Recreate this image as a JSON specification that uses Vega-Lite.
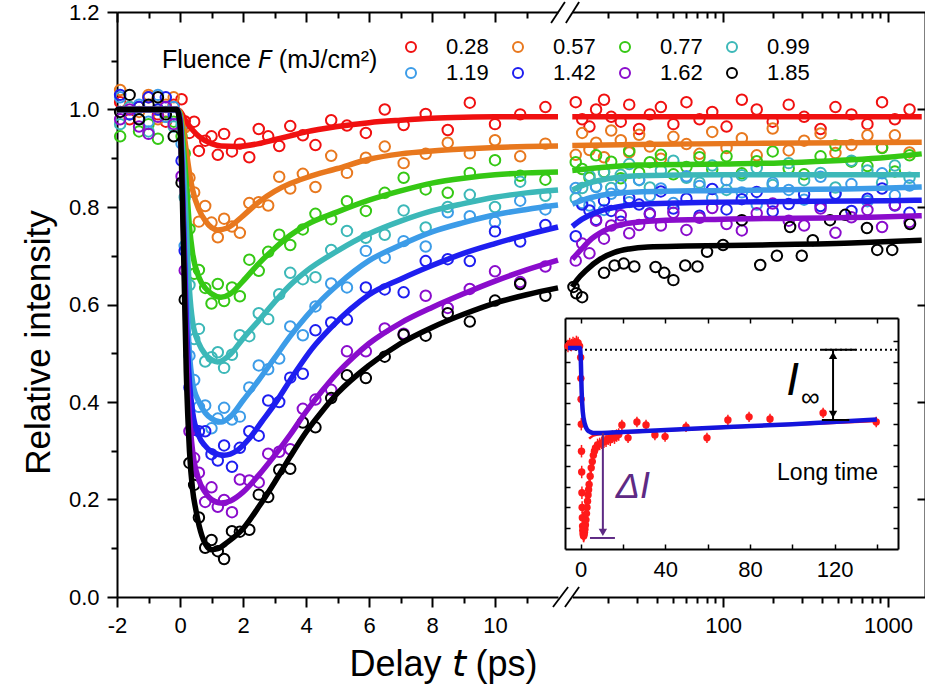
{
"$schema": "https://vega.github.io/schema/vega-lite/v6.json",
"width": 808, "height": 585,
"autosize": {"type": "none"},
"padding": {"left": 117, "top": 12, "right": 0, "bottom": 93},
"background": "white",
"config": {
  "font": "Liberation Sans",
  "view": {"stroke": null},
  "axis": {"grid": false, "domainColor": "black", "domainWidth": 2, "tickColor": "black", "tickWidth": 2, "labelColor": "black", "labelFontSize": 22, "labelFont": "Liberation Sans", "titleFont": "Liberation Sans", "titleColor": "black", "titleFontWeight": "normal", "labelOverlap": false, "labelFlush": false, "labelBound": false}
},
"datasets": {
"ptsL": [
{"F":"0.28","t":-1.9,"v":1.015},{"F":"0.28","t":-1.6,"v":0.98},{"F":"0.28","t":-1.3,"v":1.005},{"F":"0.28","t":-1.0,"v":1.025},{"F":"0.28","t":-0.7,"v":0.99},{"F":"0.28","t":-0.45,"v":0.975},{"F":"0.28","t":-0.2,"v":1.01},{"F":"0.28","t":0.05,"v":1.021},{"F":"0.28","t":0.15,"v":0.976},{"F":"0.28","t":0.3,"v":0.952},{"F":"0.28","t":0.45,"v":0.975},{"F":"0.28","t":0.6,"v":0.915},{"F":"0.28","t":0.8,"v":0.936},{"F":"0.28","t":1.0,"v":0.945},{"F":"0.28","t":1.2,"v":0.907},{"F":"0.28","t":1.4,"v":0.95},{"F":"0.28","t":1.65,"v":0.914},{"F":"0.28","t":1.9,"v":0.93},{"F":"0.28","t":2.2,"v":0.902},{"F":"0.28","t":2.5,"v":0.96},{"F":"0.28","t":2.8,"v":0.945},{"F":"0.28","t":3.15,"v":0.925},{"F":"0.28","t":3.5,"v":0.966},{"F":"0.28","t":3.9,"v":0.947},{"F":"0.28","t":4.3,"v":0.927},{"F":"0.28","t":4.8,"v":0.978},{"F":"0.28","t":5.3,"v":0.967},{"F":"0.28","t":5.9,"v":0.952},{"F":"0.28","t":6.5,"v":1.0},{"F":"0.28","t":7.1,"v":0.968},{"F":"0.28","t":7.8,"v":0.991},{"F":"0.28","t":8.5,"v":0.958},{"F":"0.28","t":9.2,"v":1.014},{"F":"0.28","t":10.0,"v":0.97},{"F":"0.28","t":10.8,"v":0.99},{"F":"0.28","t":11.6,"v":1.005},
{"F":"0.57","t":-1.9,"v":1.04},{"F":"0.57","t":-1.6,"v":1.005},{"F":"0.57","t":-1.3,"v":0.995},{"F":"0.57","t":-1.0,"v":1.03},{"F":"0.57","t":-0.7,"v":0.98},{"F":"0.57","t":-0.45,"v":1.01},{"F":"0.57","t":-0.2,"v":1.025},{"F":"0.57","t":0.05,"v":0.958},{"F":"0.57","t":0.15,"v":0.963},{"F":"0.57","t":0.3,"v":0.86},{"F":"0.57","t":0.45,"v":0.83},{"F":"0.57","t":0.6,"v":0.77},{"F":"0.57","t":0.8,"v":0.802},{"F":"0.57","t":1.0,"v":0.768},{"F":"0.57","t":1.2,"v":0.738},{"F":"0.57","t":1.4,"v":0.776},{"F":"0.57","t":1.65,"v":0.76},{"F":"0.57","t":1.9,"v":0.747},{"F":"0.57","t":2.2,"v":0.808},{"F":"0.57","t":2.5,"v":0.81},{"F":"0.57","t":2.8,"v":0.803},{"F":"0.57","t":3.15,"v":0.862},{"F":"0.57","t":3.5,"v":0.838},{"F":"0.57","t":3.9,"v":0.868},{"F":"0.57","t":4.3,"v":0.841},{"F":"0.57","t":4.8,"v":0.905},{"F":"0.57","t":5.3,"v":0.87},{"F":"0.57","t":5.9,"v":0.901},{"F":"0.57","t":6.5,"v":0.924},{"F":"0.57","t":7.1,"v":0.89},{"F":"0.57","t":7.8,"v":0.909},{"F":"0.57","t":8.5,"v":0.932},{"F":"0.57","t":9.2,"v":0.91},{"F":"0.57","t":10.0,"v":0.937},{"F":"0.57","t":10.8,"v":0.904},{"F":"0.57","t":11.6,"v":0.93},
{"F":"0.77","t":-1.9,"v":0.945},{"F":"0.77","t":-1.6,"v":0.99},{"F":"0.77","t":-1.3,"v":0.955},{"F":"0.77","t":-1.0,"v":0.97},{"F":"0.77","t":-0.7,"v":0.94},{"F":"0.77","t":-0.45,"v":0.995},{"F":"0.77","t":-0.2,"v":0.975},{"F":"0.77","t":0.05,"v":0.945},{"F":"0.77","t":0.15,"v":0.91},{"F":"0.77","t":0.3,"v":0.755},{"F":"0.77","t":0.45,"v":0.663},{"F":"0.77","t":0.6,"v":0.671},{"F":"0.77","t":0.8,"v":0.634},{"F":"0.77","t":1.0,"v":0.602},{"F":"0.77","t":1.2,"v":0.642},{"F":"0.77","t":1.4,"v":0.607},{"F":"0.77","t":1.65,"v":0.635},{"F":"0.77","t":1.9,"v":0.617},{"F":"0.77","t":2.2,"v":0.692},{"F":"0.77","t":2.5,"v":0.669},{"F":"0.77","t":2.8,"v":0.708},{"F":"0.77","t":3.15,"v":0.743},{"F":"0.77","t":3.5,"v":0.722},{"F":"0.77","t":3.9,"v":0.754},{"F":"0.77","t":4.3,"v":0.786},{"F":"0.77","t":4.8,"v":0.775},{"F":"0.77","t":5.3,"v":0.812},{"F":"0.77","t":5.9,"v":0.792},{"F":"0.77","t":6.5,"v":0.829},{"F":"0.77","t":7.1,"v":0.86},{"F":"0.77","t":7.8,"v":0.836},{"F":"0.77","t":8.5,"v":0.829},{"F":"0.77","t":9.2,"v":0.87},{"F":"0.77","t":10.0,"v":0.896},{"F":"0.77","t":10.8,"v":0.864},{"F":"0.77","t":11.6,"v":0.856},
{"F":"0.99","t":-1.9,"v":0.97},{"F":"0.99","t":-1.6,"v":1.005},{"F":"0.99","t":-1.3,"v":0.98},{"F":"0.99","t":-1.0,"v":0.955},{"F":"0.99","t":-0.7,"v":1.0},{"F":"0.99","t":-0.45,"v":0.985},{"F":"0.99","t":-0.2,"v":0.965},{"F":"0.99","t":0.05,"v":0.968},{"F":"0.99","t":0.15,"v":0.82},{"F":"0.99","t":0.3,"v":0.64},{"F":"0.99","t":0.45,"v":0.529},{"F":"0.99","t":0.6,"v":0.55},{"F":"0.99","t":0.8,"v":0.483},{"F":"0.99","t":1.0,"v":0.492},{"F":"0.99","t":1.2,"v":0.502},{"F":"0.99","t":1.4,"v":0.47},{"F":"0.99","t":1.65,"v":0.497},{"F":"0.99","t":1.9,"v":0.537},{"F":"0.99","t":2.2,"v":0.535},{"F":"0.99","t":2.5,"v":0.582},{"F":"0.99","t":2.8,"v":0.57},{"F":"0.99","t":3.15,"v":0.621},{"F":"0.99","t":3.5,"v":0.665},{"F":"0.99","t":3.9,"v":0.652},{"F":"0.99","t":4.3,"v":0.656},{"F":"0.99","t":4.8,"v":0.712},{"F":"0.99","t":5.3,"v":0.751},{"F":"0.99","t":5.9,"v":0.737},{"F":"0.99","t":6.5,"v":0.743},{"F":"0.99","t":7.1,"v":0.793},{"F":"0.99","t":7.8,"v":0.758},{"F":"0.99","t":8.5,"v":0.8},{"F":"0.99","t":9.2,"v":0.825},{"F":"0.99","t":10.0,"v":0.8},{"F":"0.99","t":10.8,"v":0.852},{"F":"0.99","t":11.6,"v":0.823},
{"F":"1.19","t":-1.9,"v":1.025},{"F":"1.19","t":-1.6,"v":0.99},{"F":"1.19","t":-1.3,"v":1.01},{"F":"1.19","t":-1.0,"v":0.975},{"F":"1.19","t":-0.7,"v":1.03},{"F":"1.19","t":-0.45,"v":0.985},{"F":"1.19","t":-0.2,"v":1.005},{"F":"1.19","t":0.05,"v":0.93},{"F":"1.19","t":0.15,"v":0.72},{"F":"1.19","t":0.3,"v":0.495},{"F":"1.19","t":0.45,"v":0.445},{"F":"1.19","t":0.6,"v":0.39},{"F":"1.19","t":0.8,"v":0.393},{"F":"1.19","t":1.0,"v":0.346},{"F":"1.19","t":1.2,"v":0.366},{"F":"1.19","t":1.4,"v":0.388},{"F":"1.19","t":1.65,"v":0.364},{"F":"1.19","t":1.9,"v":0.37},{"F":"1.19","t":2.2,"v":0.43},{"F":"1.19","t":2.5,"v":0.475},{"F":"1.19","t":2.8,"v":0.467},{"F":"1.19","t":3.15,"v":0.489},{"F":"1.19","t":3.5,"v":0.555},{"F":"1.19","t":3.9,"v":0.537},{"F":"1.19","t":4.3,"v":0.596},{"F":"1.19","t":4.8,"v":0.643},{"F":"1.19","t":5.3,"v":0.635},{"F":"1.19","t":5.9,"v":0.71},{"F":"1.19","t":6.5,"v":0.696},{"F":"1.19","t":7.1,"v":0.73},{"F":"1.19","t":7.8,"v":0.719},{"F":"1.19","t":8.5,"v":0.789},{"F":"1.19","t":9.2,"v":0.781},{"F":"1.19","t":10.0,"v":0.769},{"F":"1.19","t":10.8,"v":0.813},{"F":"1.19","t":11.6,"v":0.795},
{"F":"1.42","t":-1.9,"v":1.03},{"F":"1.42","t":-1.6,"v":0.99},{"F":"1.42","t":-1.3,"v":1.005},{"F":"1.42","t":-1.0,"v":1.025},{"F":"1.42","t":-0.7,"v":1.0},{"F":"1.42","t":-0.45,"v":1.025},{"F":"1.42","t":-0.2,"v":0.99},{"F":"1.42","t":0.05,"v":0.895},{"F":"1.42","t":0.15,"v":0.71},{"F":"1.42","t":0.3,"v":0.43},{"F":"1.42","t":0.45,"v":0.343},{"F":"1.42","t":0.6,"v":0.34},{"F":"1.42","t":0.8,"v":0.34},{"F":"1.42","t":1.0,"v":0.293},{"F":"1.42","t":1.2,"v":0.28},{"F":"1.42","t":1.4,"v":0.311},{"F":"1.42","t":1.65,"v":0.267},{"F":"1.42","t":1.9,"v":0.306},{"F":"1.42","t":2.2,"v":0.34},{"F":"1.42","t":2.5,"v":0.331},{"F":"1.42","t":2.8,"v":0.403},{"F":"1.42","t":3.15,"v":0.4},{"F":"1.42","t":3.5,"v":0.45},{"F":"1.42","t":3.9,"v":0.458},{"F":"1.42","t":4.3,"v":0.547},{"F":"1.42","t":4.8,"v":0.563},{"F":"1.42","t":5.3,"v":0.569},{"F":"1.42","t":5.9,"v":0.635},{"F":"1.42","t":6.5,"v":0.631},{"F":"1.42","t":7.1,"v":0.625},{"F":"1.42","t":7.8,"v":0.689},{"F":"1.42","t":8.5,"v":0.693},{"F":"1.42","t":9.2,"v":0.689},{"F":"1.42","t":10.0,"v":0.75},{"F":"1.42","t":10.8,"v":0.729},{"F":"1.42","t":11.6,"v":0.763},
{"F":"1.62","t":-1.9,"v":0.98},{"F":"1.62","t":-1.6,"v":1.0},{"F":"1.62","t":-1.3,"v":0.965},{"F":"1.62","t":-1.0,"v":0.95},{"F":"1.62","t":-0.7,"v":0.985},{"F":"1.62","t":-0.45,"v":1.005},{"F":"1.62","t":-0.2,"v":0.97},{"F":"1.62","t":0.05,"v":0.863},{"F":"1.62","t":0.15,"v":0.67},{"F":"1.62","t":0.3,"v":0.34},{"F":"1.62","t":0.45,"v":0.285},{"F":"1.62","t":0.6,"v":0.255},{"F":"1.62","t":0.8,"v":0.195},{"F":"1.62","t":1.0,"v":0.225},{"F":"1.62","t":1.2,"v":0.185},{"F":"1.62","t":1.4,"v":0.199},{"F":"1.62","t":1.65,"v":0.174},{"F":"1.62","t":1.9,"v":0.241},{"F":"1.62","t":2.2,"v":0.239},{"F":"1.62","t":2.5,"v":0.235},{"F":"1.62","t":2.8,"v":0.294},{"F":"1.62","t":3.15,"v":0.298},{"F":"1.62","t":3.5,"v":0.303},{"F":"1.62","t":3.9,"v":0.386},{"F":"1.62","t":4.3,"v":0.405},{"F":"1.62","t":4.8,"v":0.425},{"F":"1.62","t":5.3,"v":0.504},{"F":"1.62","t":5.9,"v":0.504},{"F":"1.62","t":6.5,"v":0.551},{"F":"1.62","t":7.1,"v":0.54},{"F":"1.62","t":7.8,"v":0.618},{"F":"1.62","t":8.5,"v":0.593},{"F":"1.62","t":9.2,"v":0.632},{"F":"1.62","t":10.0,"v":0.668},{"F":"1.62","t":10.8,"v":0.646},{"F":"1.62","t":11.6,"v":0.678},
{"F":"1.85","t":-1.9,"v":0.995},{"F":"1.85","t":-1.6,"v":1.03},{"F":"1.85","t":-1.3,"v":0.98},{"F":"1.85","t":-1.0,"v":1.01},{"F":"1.85","t":-0.7,"v":1.025},{"F":"1.85","t":-0.45,"v":0.99},{"F":"1.85","t":-0.2,"v":0.945},{"F":"1.85","t":0.05,"v":0.85},{"F":"1.85","t":0.15,"v":0.61},{"F":"1.85","t":0.3,"v":0.275},{"F":"1.85","t":0.45,"v":0.23},{"F":"1.85","t":0.6,"v":0.163},{"F":"1.85","t":0.8,"v":0.101},{"F":"1.85","t":1.0,"v":0.117},{"F":"1.85","t":1.2,"v":0.094},{"F":"1.85","t":1.4,"v":0.078},{"F":"1.85","t":1.65,"v":0.135},{"F":"1.85","t":1.9,"v":0.134},{"F":"1.85","t":2.2,"v":0.138},{"F":"1.85","t":2.5,"v":0.21},{"F":"1.85","t":2.8,"v":0.205},{"F":"1.85","t":3.15,"v":0.261},{"F":"1.85","t":3.5,"v":0.263},{"F":"1.85","t":3.9,"v":0.358},{"F":"1.85","t":4.3,"v":0.348},{"F":"1.85","t":4.8,"v":0.408},{"F":"1.85","t":5.3,"v":0.455},{"F":"1.85","t":5.9,"v":0.449},{"F":"1.85","t":6.5,"v":0.493},{"F":"1.85","t":7.1,"v":0.538},{"F":"1.85","t":7.8,"v":0.536},{"F":"1.85","t":8.5,"v":0.582},{"F":"1.85","t":9.2,"v":0.565},{"F":"1.85","t":10.0,"v":0.608},{"F":"1.85","t":10.8,"v":0.642},{"F":"1.85","t":11.6,"v":0.618}
],
"fitL": [
{"F":"0.28","t":-2,"v":1},{"F":"0.28","t":-0.1,"v":1},{"F":"0.28","t":0,"v":0.997},{"F":"0.28","t":0.2,"v":0.975},{"F":"0.28","t":0.4,"v":0.958},{"F":"0.28","t":0.6,"v":0.945},{"F":"0.28","t":0.8,"v":0.936},{"F":"0.28","t":1.0,"v":0.93},{"F":"0.28","t":1.3,"v":0.925},{"F":"0.28","t":1.8,"v":0.924},{"F":"0.28","t":2.5,"v":0.93},{"F":"0.28","t":3,"v":0.938},{"F":"0.28","t":3.5,"v":0.946},{"F":"0.28","t":4,"v":0.954},{"F":"0.28","t":5,"v":0.965},{"F":"0.28","t":6,"v":0.973},{"F":"0.28","t":7,"v":0.978},{"F":"0.28","t":8,"v":0.982},{"F":"0.28","t":9,"v":0.984},{"F":"0.28","t":10,"v":0.985},{"F":"0.28","t":12,"v":0.985},
{"F":"0.57","t":-2,"v":1},{"F":"0.57","t":-0.1,"v":1},{"F":"0.57","t":0,"v":0.995},{"F":"0.57","t":0.1,"v":0.96},{"F":"0.57","t":0.2,"v":0.915},{"F":"0.57","t":0.3,"v":0.87},{"F":"0.57","t":0.4,"v":0.835},{"F":"0.57","t":0.6,"v":0.795},{"F":"0.57","t":0.8,"v":0.772},{"F":"0.57","t":1.0,"v":0.758},{"F":"0.57","t":1.2,"v":0.753},{"F":"0.57","t":1.5,"v":0.757},{"F":"0.57","t":2,"v":0.782},{"F":"0.57","t":2.5,"v":0.81},{"F":"0.57","t":3,"v":0.832},{"F":"0.57","t":3.5,"v":0.848},{"F":"0.57","t":4,"v":0.86},{"F":"0.57","t":5,"v":0.879},{"F":"0.57","t":6,"v":0.898},{"F":"0.57","t":7,"v":0.909},{"F":"0.57","t":8,"v":0.915},{"F":"0.57","t":9,"v":0.919},{"F":"0.57","t":10,"v":0.922},{"F":"0.57","t":11,"v":0.924},{"F":"0.57","t":12,"v":0.925},
{"F":"0.77","t":-2,"v":1},{"F":"0.77","t":-0.1,"v":1},{"F":"0.77","t":0,"v":0.99},{"F":"0.77","t":0.1,"v":0.93},{"F":"0.77","t":0.2,"v":0.85},{"F":"0.77","t":0.3,"v":0.76},{"F":"0.77","t":0.4,"v":0.705},{"F":"0.77","t":0.6,"v":0.656},{"F":"0.77","t":0.8,"v":0.634},{"F":"0.77","t":1.0,"v":0.622},{"F":"0.77","t":1.3,"v":0.615},{"F":"0.77","t":1.6,"v":0.622},{"F":"0.77","t":2,"v":0.648},{"F":"0.77","t":2.5,"v":0.684},{"F":"0.77","t":3,"v":0.715},{"F":"0.77","t":3.5,"v":0.742},{"F":"0.77","t":4,"v":0.763},{"F":"0.77","t":5,"v":0.79},{"F":"0.77","t":6,"v":0.814},{"F":"0.77","t":7,"v":0.833},{"F":"0.77","t":8,"v":0.849},{"F":"0.77","t":9,"v":0.859},{"F":"0.77","t":10,"v":0.866},{"F":"0.77","t":11,"v":0.87},{"F":"0.77","t":12,"v":0.872},
{"F":"0.99","t":-2,"v":1},{"F":"0.99","t":-0.1,"v":1},{"F":"0.99","t":0,"v":0.985},{"F":"0.99","t":0.1,"v":0.9},{"F":"0.99","t":0.2,"v":0.76},{"F":"0.99","t":0.3,"v":0.63},{"F":"0.99","t":0.4,"v":0.565},{"F":"0.99","t":0.6,"v":0.52},{"F":"0.99","t":0.8,"v":0.498},{"F":"0.99","t":1.0,"v":0.487},{"F":"0.99","t":1.2,"v":0.482},{"F":"0.99","t":1.6,"v":0.498},{"F":"0.99","t":2,"v":0.53},{"F":"0.99","t":2.5,"v":0.567},{"F":"0.99","t":3,"v":0.605},{"F":"0.99","t":3.5,"v":0.64},{"F":"0.99","t":4,"v":0.668},{"F":"0.99","t":5,"v":0.71},{"F":"0.99","t":6,"v":0.745},{"F":"0.99","t":7,"v":0.771},{"F":"0.99","t":8,"v":0.792},{"F":"0.99","t":9,"v":0.807},{"F":"0.99","t":10,"v":0.82},{"F":"0.99","t":11,"v":0.829},{"F":"0.99","t":12,"v":0.835},
{"F":"1.19","t":-2,"v":1},{"F":"1.19","t":-0.1,"v":1},{"F":"1.19","t":0,"v":0.98},{"F":"1.19","t":0.1,"v":0.84},{"F":"1.19","t":0.2,"v":0.64},{"F":"1.19","t":0.3,"v":0.5},{"F":"1.19","t":0.4,"v":0.44},{"F":"1.19","t":0.6,"v":0.4},{"F":"1.19","t":0.8,"v":0.378},{"F":"1.19","t":1.0,"v":0.366},{"F":"1.19","t":1.3,"v":0.359},{"F":"1.19","t":1.6,"v":0.37},{"F":"1.19","t":2,"v":0.403},{"F":"1.19","t":2.5,"v":0.445},{"F":"1.19","t":3,"v":0.49},{"F":"1.19","t":3.5,"v":0.535},{"F":"1.19","t":4,"v":0.575},{"F":"1.19","t":4.5,"v":0.61},{"F":"1.19","t":5,"v":0.64},{"F":"1.19","t":6,"v":0.69},{"F":"1.19","t":7,"v":0.722},{"F":"1.19","t":8,"v":0.749},{"F":"1.19","t":9,"v":0.768},{"F":"1.19","t":10,"v":0.784},{"F":"1.19","t":11,"v":0.795},{"F":"1.19","t":12,"v":0.804},
{"F":"1.42","t":-2,"v":1},{"F":"1.42","t":-0.1,"v":1},{"F":"1.42","t":0,"v":0.98},{"F":"1.42","t":0.1,"v":0.8},{"F":"1.42","t":0.2,"v":0.57},{"F":"1.42","t":0.3,"v":0.44},{"F":"1.42","t":0.4,"v":0.38},{"F":"1.42","t":0.6,"v":0.33},{"F":"1.42","t":0.8,"v":0.31},{"F":"1.42","t":1.0,"v":0.298},{"F":"1.42","t":1.4,"v":0.291},{"F":"1.42","t":1.8,"v":0.3},{"F":"1.42","t":2.2,"v":0.325},{"F":"1.42","t":2.6,"v":0.36},{"F":"1.42","t":3,"v":0.395},{"F":"1.42","t":3.6,"v":0.455},{"F":"1.42","t":4.2,"v":0.51},{"F":"1.42","t":4.8,"v":0.553},{"F":"1.42","t":5.4,"v":0.59},{"F":"1.42","t":6,"v":0.62},{"F":"1.42","t":7,"v":0.652},{"F":"1.42","t":8,"v":0.68},{"F":"1.42","t":9,"v":0.705},{"F":"1.42","t":10,"v":0.725},{"F":"1.42","t":11,"v":0.743},{"F":"1.42","t":12,"v":0.759},
{"F":"1.62","t":-2,"v":1},{"F":"1.62","t":-0.1,"v":1},{"F":"1.62","t":0,"v":0.975},{"F":"1.62","t":0.1,"v":0.78},{"F":"1.62","t":0.2,"v":0.52},{"F":"1.62","t":0.3,"v":0.37},{"F":"1.62","t":0.4,"v":0.3},{"F":"1.62","t":0.6,"v":0.24},{"F":"1.62","t":0.8,"v":0.215},{"F":"1.62","t":1.0,"v":0.2},{"F":"1.62","t":1.3,"v":0.193},{"F":"1.62","t":1.6,"v":0.197},{"F":"1.62","t":2,"v":0.215},{"F":"1.62","t":2.5,"v":0.25},{"F":"1.62","t":3,"v":0.29},{"F":"1.62","t":3.5,"v":0.333},{"F":"1.62","t":4,"v":0.38},{"F":"1.62","t":4.5,"v":0.422},{"F":"1.62","t":5,"v":0.46},{"F":"1.62","t":5.5,"v":0.492},{"F":"1.62","t":6,"v":0.52},{"F":"1.62","t":7,"v":0.562},{"F":"1.62","t":8,"v":0.594},{"F":"1.62","t":9,"v":0.622},{"F":"1.62","t":10,"v":0.648},{"F":"1.62","t":11,"v":0.671},{"F":"1.62","t":12,"v":0.691},
{"F":"1.85","t":-2,"v":1},{"F":"1.85","t":-0.1,"v":1},{"F":"1.85","t":0,"v":0.97},{"F":"1.85","t":0.1,"v":0.75},{"F":"1.85","t":0.2,"v":0.46},{"F":"1.85","t":0.3,"v":0.3},{"F":"1.85","t":0.4,"v":0.22},{"F":"1.85","t":0.5,"v":0.18},{"F":"1.85","t":0.7,"v":0.125},{"F":"1.85","t":1.0,"v":0.097},{"F":"1.85","t":1.2,"v":0.099},{"F":"1.85","t":1.5,"v":0.112},{"F":"1.85","t":2,"v":0.14},{"F":"1.85","t":2.5,"v":0.185},{"F":"1.85","t":3,"v":0.235},{"F":"1.85","t":3.5,"v":0.288},{"F":"1.85","t":4,"v":0.338},{"F":"1.85","t":4.5,"v":0.38},{"F":"1.85","t":5,"v":0.418},{"F":"1.85","t":6,"v":0.475},{"F":"1.85","t":7,"v":0.52},{"F":"1.85","t":8,"v":0.553},{"F":"1.85","t":9,"v":0.58},{"F":"1.85","t":10,"v":0.603},{"F":"1.85","t":11,"v":0.62},{"F":"1.85","t":12,"v":0.634}
],
"ptsR": [
{"F":"0.28","t":12.8,"v":1.015},{"F":"0.28","t":14,"v":0.98},{"F":"0.28","t":15.5,"v":0.965},{"F":"0.28","t":17,"v":1.0},{"F":"0.28","t":19,"v":1.02},{"F":"0.28","t":21,"v":0.985},{"F":"0.28","t":24,"v":0.975},{"F":"0.28","t":27,"v":1.01},{"F":"0.28","t":31,"v":0.96},{"F":"0.28","t":36,"v":0.99},{"F":"0.28","t":42,"v":1.005},{"F":"0.28","t":50,"v":0.97},{"F":"0.28","t":60,"v":1.015},{"F":"0.28","t":72,"v":0.98},{"F":"0.28","t":86,"v":0.995},{"F":"0.28","t":105,"v":0.965},{"F":"0.28","t":130,"v":1.02},{"F":"0.28","t":160,"v":1.0},{"F":"0.28","t":200,"v":0.975},{"F":"0.28","t":250,"v":1.01},{"F":"0.28","t":310,"v":0.985},{"F":"0.28","t":390,"v":0.96},{"F":"0.28","t":480,"v":1.005},{"F":"0.28","t":600,"v":0.99},{"F":"0.28","t":750,"v":0.97},{"F":"0.28","t":920,"v":1.015},{"F":"0.28","t":1100,"v":0.98},{"F":"0.28","t":1350,"v":1.0},
{"F":"0.57","t":12.8,"v":0.907},{"F":"0.57","t":14,"v":0.952},{"F":"0.57","t":15.5,"v":0.917},{"F":"0.57","t":17,"v":0.932},{"F":"0.57","t":19,"v":0.902},{"F":"0.57","t":21,"v":0.957},{"F":"0.57","t":24,"v":0.937},{"F":"0.57","t":27,"v":0.912},{"F":"0.57","t":31,"v":0.948},{"F":"0.57","t":36,"v":0.924},{"F":"0.57","t":42,"v":0.899},{"F":"0.57","t":50,"v":0.944},{"F":"0.57","t":60,"v":0.929},{"F":"0.57","t":72,"v":0.909},{"F":"0.57","t":86,"v":0.954},{"F":"0.57","t":105,"v":0.921},{"F":"0.57","t":130,"v":0.941},{"F":"0.57","t":160,"v":0.906},{"F":"0.57","t":200,"v":0.961},{"F":"0.57","t":250,"v":0.916},{"F":"0.57","t":310,"v":0.936},{"F":"0.57","t":390,"v":0.951},{"F":"0.57","t":480,"v":0.911},{"F":"0.57","t":600,"v":0.927},{"F":"0.57","t":750,"v":0.947},{"F":"0.57","t":920,"v":0.922},{"F":"0.57","t":1100,"v":0.947},{"F":"0.57","t":1350,"v":0.912},
{"F":"0.77","t":12.8,"v":0.892},{"F":"0.77","t":14,"v":0.878},{"F":"0.77","t":15.5,"v":0.86},{"F":"0.77","t":17,"v":0.906},{"F":"0.77","t":19,"v":0.872},{"F":"0.77","t":21,"v":0.893},{"F":"0.77","t":24,"v":0.859},{"F":"0.77","t":27,"v":0.915},{"F":"0.77","t":31,"v":0.871},{"F":"0.77","t":36,"v":0.892},{"F":"0.77","t":42,"v":0.907},{"F":"0.77","t":50,"v":0.867},{"F":"0.77","t":60,"v":0.882},{"F":"0.77","t":72,"v":0.902},{"F":"0.77","t":86,"v":0.877},{"F":"0.77","t":105,"v":0.904},{"F":"0.77","t":130,"v":0.869},{"F":"0.77","t":160,"v":0.894},{"F":"0.77","t":200,"v":0.914},{"F":"0.77","t":250,"v":0.879},{"F":"0.77","t":310,"v":0.867},{"F":"0.77","t":390,"v":0.904},{"F":"0.77","t":480,"v":0.926},{"F":"0.77","t":600,"v":0.893},{"F":"0.77","t":750,"v":0.884},{"F":"0.77","t":920,"v":0.921},{"F":"0.77","t":1100,"v":0.873},{"F":"0.77","t":1350,"v":0.906},
{"F":"0.99","t":12.8,"v":0.818},{"F":"0.99","t":14,"v":0.839},{"F":"0.99","t":15.5,"v":0.864},{"F":"0.99","t":17,"v":0.842},{"F":"0.99","t":19,"v":0.871},{"F":"0.99","t":21,"v":0.839},{"F":"0.99","t":24,"v":0.866},{"F":"0.99","t":27,"v":0.888},{"F":"0.99","t":31,"v":0.855},{"F":"0.99","t":36,"v":0.84},{"F":"0.99","t":42,"v":0.875},{"F":"0.99","t":50,"v":0.895},{"F":"0.99","t":60,"v":0.86},{"F":"0.99","t":72,"v":0.85},{"F":"0.99","t":86,"v":0.885},{"F":"0.99","t":105,"v":0.835},{"F":"0.99","t":130,"v":0.865},{"F":"0.99","t":160,"v":0.88},{"F":"0.99","t":200,"v":0.845},{"F":"0.99","t":250,"v":0.89},{"F":"0.99","t":310,"v":0.855},{"F":"0.99","t":390,"v":0.87},{"F":"0.99","t":480,"v":0.84},{"F":"0.99","t":600,"v":0.895},{"F":"0.99","t":750,"v":0.875},{"F":"0.99","t":920,"v":0.85},{"F":"0.99","t":1100,"v":0.885},{"F":"0.99","t":1350,"v":0.86},
{"F":"1.19","t":12.8,"v":0.839},{"F":"1.19","t":14,"v":0.808},{"F":"1.19","t":15.5,"v":0.803},{"F":"1.19","t":17,"v":0.841},{"F":"1.19","t":19,"v":0.794},{"F":"1.19","t":21,"v":0.827},{"F":"1.19","t":24,"v":0.844},{"F":"1.19","t":27,"v":0.81},{"F":"1.19","t":31,"v":0.856},{"F":"1.19","t":36,"v":0.823},{"F":"1.19","t":42,"v":0.838},{"F":"1.19","t":50,"v":0.808},{"F":"1.19","t":60,"v":0.863},{"F":"1.19","t":72,"v":0.843},{"F":"1.19","t":86,"v":0.818},{"F":"1.19","t":105,"v":0.855},{"F":"1.19","t":130,"v":0.83},{"F":"1.19","t":160,"v":0.805},{"F":"1.19","t":200,"v":0.85},{"F":"1.19","t":250,"v":0.835},{"F":"1.19","t":310,"v":0.815},{"F":"1.19","t":390,"v":0.862},{"F":"1.19","t":480,"v":0.827},{"F":"1.19","t":600,"v":0.847},{"F":"1.19","t":750,"v":0.812},{"F":"1.19","t":920,"v":0.869},{"F":"1.19","t":1100,"v":0.824},{"F":"1.19","t":1350,"v":0.844},
{"F":"1.42","t":12.8,"v":0.74},{"F":"1.42","t":14,"v":0.805},{"F":"1.42","t":15.5,"v":0.793},{"F":"1.42","t":17,"v":0.774},{"F":"1.42","t":19,"v":0.813},{"F":"1.42","t":21,"v":0.792},{"F":"1.42","t":24,"v":0.77},{"F":"1.42","t":27,"v":0.818},{"F":"1.42","t":31,"v":0.805},{"F":"1.42","t":36,"v":0.787},{"F":"1.42","t":42,"v":0.832},{"F":"1.42","t":50,"v":0.797},{"F":"1.42","t":60,"v":0.817},{"F":"1.42","t":72,"v":0.782},{"F":"1.42","t":86,"v":0.837},{"F":"1.42","t":105,"v":0.795},{"F":"1.42","t":130,"v":0.816},{"F":"1.42","t":160,"v":0.831},{"F":"1.42","t":200,"v":0.791},{"F":"1.42","t":250,"v":0.806},{"F":"1.42","t":310,"v":0.826},{"F":"1.42","t":390,"v":0.802},{"F":"1.42","t":480,"v":0.827},{"F":"1.42","t":600,"v":0.792},{"F":"1.42","t":750,"v":0.817},{"F":"1.42","t":920,"v":0.838},{"F":"1.42","t":1100,"v":0.803},{"F":"1.42","t":1350,"v":0.788},
{"F":"1.62","t":12.8,"v":0.69},{"F":"1.62","t":14,"v":0.725},{"F":"1.62","t":15.5,"v":0.705},{"F":"1.62","t":17,"v":0.772},{"F":"1.62","t":19,"v":0.735},{"F":"1.62","t":21,"v":0.762},{"F":"1.62","t":24,"v":0.783},{"F":"1.62","t":27,"v":0.746},{"F":"1.62","t":31,"v":0.763},{"F":"1.62","t":36,"v":0.785},{"F":"1.62","t":42,"v":0.762},{"F":"1.62","t":50,"v":0.788},{"F":"1.62","t":60,"v":0.753},{"F":"1.62","t":72,"v":0.778},{"F":"1.62","t":86,"v":0.798},{"F":"1.62","t":105,"v":0.765},{"F":"1.62","t":130,"v":0.752},{"F":"1.62","t":160,"v":0.787},{"F":"1.62","t":200,"v":0.807},{"F":"1.62","t":250,"v":0.772},{"F":"1.62","t":310,"v":0.762},{"F":"1.62","t":390,"v":0.797},{"F":"1.62","t":480,"v":0.747},{"F":"1.62","t":600,"v":0.779},{"F":"1.62","t":750,"v":0.794},{"F":"1.62","t":920,"v":0.759},{"F":"1.62","t":1100,"v":0.804},{"F":"1.62","t":1350,"v":0.769},
{"F":"1.85","t":12.4,"v":0.636},{"F":"1.85","t":12.9,"v":0.623},{"F":"1.85","t":14,"v":0.615},{"F":"1.85","t":19,"v":0.665},{"F":"1.85","t":22,"v":0.68},{"F":"1.85","t":25,"v":0.684},{"F":"1.85","t":29,"v":0.678},{"F":"1.85","t":39,"v":0.677},{"F":"1.85","t":44,"v":0.665},{"F":"1.85","t":50,"v":0.65},{"F":"1.85","t":59,"v":0.68},{"F":"1.85","t":70,"v":0.678},{"F":"1.85","t":80,"v":0.708},{"F":"1.85","t":100,"v":0.722},{"F":"1.85","t":130,"v":0.773},{"F":"1.85","t":168,"v":0.681},{"F":"1.85","t":212,"v":0.7},{"F":"1.85","t":255,"v":0.759},{"F":"1.85","t":300,"v":0.7},{"F":"1.85","t":350,"v":0.732},{"F":"1.85","t":445,"v":0.773},{"F":"1.85","t":550,"v":0.784},{"F":"1.85","t":745,"v":0.757},{"F":"1.85","t":860,"v":0.712},{"F":"1.85","t":1060,"v":0.712},{"F":"1.85","t":1360,"v":0.765}
],
"fitR": [
{"F":"0.28","t":12.2,"v":0.985},{"F":"0.28","t":100,"v":0.985},{"F":"0.28","t":1600,"v":0.985},
{"F":"0.57","t":12.2,"v":0.926},{"F":"0.57","t":30,"v":0.928},{"F":"0.57","t":100,"v":0.93},{"F":"0.57","t":1600,"v":0.933},
{"F":"0.77","t":12.2,"v":0.875},{"F":"0.77","t":20,"v":0.882},{"F":"0.77","t":30,"v":0.886},{"F":"0.77","t":100,"v":0.888},{"F":"0.77","t":300,"v":0.892},{"F":"0.77","t":1000,"v":0.902},{"F":"0.77","t":1600,"v":0.909},
{"F":"0.99","t":12.2,"v":0.835},{"F":"0.99","t":15,"v":0.848},{"F":"0.99","t":20,"v":0.858},{"F":"0.99","t":30,"v":0.864},{"F":"0.99","t":100,"v":0.866},{"F":"0.99","t":1560,"v":0.866},
{"F":"1.19","t":12.2,"v":0.806},{"F":"1.19","t":15,"v":0.817},{"F":"1.19","t":20,"v":0.826},{"F":"1.19","t":30,"v":0.831},{"F":"1.19","t":100,"v":0.834},{"F":"1.19","t":1000,"v":0.839},{"F":"1.19","t":1600,"v":0.841},
{"F":"1.42","t":12.2,"v":0.76},{"F":"1.42","t":14,"v":0.775},{"F":"1.42","t":17,"v":0.789},{"F":"1.42","t":22,"v":0.799},{"F":"1.42","t":30,"v":0.805},{"F":"1.42","t":100,"v":0.81},{"F":"1.42","t":1000,"v":0.813},{"F":"1.42","t":1600,"v":0.814},
{"F":"1.62","t":12.2,"v":0.693},{"F":"1.62","t":14,"v":0.715},{"F":"1.62","t":16,"v":0.735},{"F":"1.62","t":20,"v":0.755},{"F":"1.62","t":26,"v":0.766},{"F":"1.62","t":40,"v":0.772},{"F":"1.62","t":100,"v":0.775},{"F":"1.62","t":1000,"v":0.78},{"F":"1.62","t":1600,"v":0.782},
{"F":"1.85","t":12.2,"v":0.636},{"F":"1.85","t":13,"v":0.65},{"F":"1.85","t":15,"v":0.672},{"F":"1.85","t":18,"v":0.693},{"F":"1.85","t":22,"v":0.707},{"F":"1.85","t":27,"v":0.714},{"F":"1.85","t":35,"v":0.718},{"F":"1.85","t":60,"v":0.72},{"F":"1.85","t":170,"v":0.722},{"F":"1.85","t":600,"v":0.726},{"F":"1.85","t":1600,"v":0.732}
],
"inset": [
{"t":-6,"v":0.975,"lo":0.945,"hi":1.005},{"t":-5.2,"v":0.985,"lo":0.955,"hi":1.015},{"t":-4.4,"v":0.98,"lo":0.95,"hi":1.01},{"t":-3.6,"v":0.99,"lo":0.96,"hi":1.02},{"t":-2.8,"v":0.985,"lo":0.955,"hi":1.015},{"t":-2,"v":0.995,"lo":0.965,"hi":1.025},{"t":-1.2,"v":0.99,"lo":0.96,"hi":1.02},{"t":-0.5,"v":0.975,"lo":0.945,"hi":1.005},{"t":0,"v":0.92,"lo":0.89,"hi":0.95},{"t":0.1,"v":0.82,"lo":0.79,"hi":0.85},{"t":0.2,"v":0.72,"lo":0.69,"hi":0.75},{"t":0.3,"v":0.6,"lo":0.57,"hi":0.63},{"t":0.4,"v":0.47,"lo":0.44,"hi":0.5},{"t":0.5,"v":0.37,"lo":0.34,"hi":0.4},{"t":0.6,"v":0.27,"lo":0.24,"hi":0.3},{"t":0.7,"v":0.2,"lo":0.17,"hi":0.23},{"t":0.8,"v":0.15,"lo":0.12,"hi":0.18},{"t":0.9,"v":0.11,"lo":0.08,"hi":0.14},{"t":1.0,"v":0.09,"lo":0.06,"hi":0.12},{"t":1.15,"v":0.075,"lo":0.045,"hi":0.105},{"t":1.3,"v":0.065,"lo":0.035,"hi":0.095},{"t":1.45,"v":0.062,"lo":0.032,"hi":0.092},{"t":1.6,"v":0.07,"lo":0.04,"hi":0.1},{"t":1.8,"v":0.08,"lo":0.05,"hi":0.11},{"t":2.0,"v":0.095,"lo":0.065,"hi":0.125},{"t":2.25,"v":0.115,"lo":0.085,"hi":0.145},{"t":2.5,"v":0.14,"lo":0.11,"hi":0.17},{"t":2.75,"v":0.17,"lo":0.14,"hi":0.2},{"t":3.0,"v":0.2,"lo":0.17,"hi":0.23},{"t":3.25,"v":0.23,"lo":0.2,"hi":0.26},{"t":3.5,"v":0.26,"lo":0.23,"hi":0.29},{"t":3.75,"v":0.285,"lo":0.255,"hi":0.315},{"t":4.0,"v":0.31,"lo":0.28,"hi":0.34},{"t":4.5,"v":0.35,"lo":0.32,"hi":0.38},{"t":5.0,"v":0.39,"lo":0.36,"hi":0.42},{"t":5.5,"v":0.42,"lo":0.39,"hi":0.45},{"t":6.0,"v":0.45,"lo":0.42,"hi":0.48},{"t":6.5,"v":0.47,"lo":0.44,"hi":0.5},{"t":7.0,"v":0.485,"lo":0.455,"hi":0.515},{"t":8,"v":0.5,"lo":0.47,"hi":0.53},{"t":9,"v":0.505,"lo":0.475,"hi":0.535},{"t":10,"v":0.51,"lo":0.48,"hi":0.54},{"t":11,"v":0.515,"lo":0.485,"hi":0.545},{"t":12,"v":0.52,"lo":0.49,"hi":0.55},{"t":13,"v":0.53,"lo":0.5,"hi":0.56},{"t":14,"v":0.525,"lo":0.495,"hi":0.555},{"t":15,"v":0.54,"lo":0.51,"hi":0.57},{"t":16,"v":0.535,"lo":0.505,"hi":0.565},{"t":17,"v":0.545,"lo":0.515,"hi":0.575},{"t":18,"v":0.55,"lo":0.52,"hi":0.58},
{"t":19.5,"v":0.596,"lo":0.571,"hi":0.621},{"t":22.4,"v":0.534,"lo":0.509,"hi":0.559},{"t":26.6,"v":0.61,"lo":0.585,"hi":0.635},{"t":30.9,"v":0.596,"lo":0.571,"hi":0.621},{"t":35.1,"v":0.548,"lo":0.523,"hi":0.573},{"t":39.9,"v":0.54,"lo":0.515,"hi":0.565},{"t":49.8,"v":0.587,"lo":0.562,"hi":0.612},{"t":59.7,"v":0.534,"lo":0.509,"hi":0.559},{"t":69.6,"v":0.62,"lo":0.595,"hi":0.645},{"t":79.6,"v":0.635,"lo":0.61,"hi":0.66},{"t":89.5,"v":0.625,"lo":0.6,"hi":0.65},{"t":114.6,"v":0.654,"lo":0.629,"hi":0.679},{"t":139.7,"v":0.61,"lo":0.585,"hi":0.635}
],
"insetBlue": [
{"t":-6,"v":0.966},{"t":-0.3,"v":0.966},{"t":0,"v":0.93},{"t":0.5,"v":0.75},{"t":1,"v":0.66},{"t":2,"v":0.6},{"t":3,"v":0.575},{"t":4,"v":0.565},{"t":6,"v":0.558},{"t":10,"v":0.558},{"t":20,"v":0.562},{"t":50,"v":0.577},{"t":100,"v":0.6},{"t":140,"v":0.622}
],
"insetRedFit": [
{"t":4,"v":0.53},{"t":6,"v":0.545},{"t":10,"v":0.552},{"t":20,"v":0.558},{"t":50,"v":0.574},{"t":100,"v":0.597},{"t":140,"v":0.615}
]
},
"layer": [
{
 "layer": [
  {"data": {"name": "ptsL"},
   "mark": {"type": "point", "filled": false, "size": 110, "strokeWidth": 2, "opacity": 1},
   "encoding": {
     "x": {"field": "t", "type": "quantitative", "scale": {"domain": [-2, 12], "range": [0, 441], "nice": false, "zero": false},
       "axis": {"orient": "bottom", "values": [-2,-1,0,1,2,3,4,5,6,7,8,9,10,11], "tickSize": {"condition": {"test": "datum.value % 2 === 0", "value": 10}, "value": 6}, "labelExpr": "datum.value % 2 === 0 ? '' + datum.value : ''", "labelPadding": 8, "title": "Delay \ud835\ude35 (ps)", "titleFontSize": 36, "titleX": 326, "titleY": 78, "titleBaseline": "alphabetic", "titleAlign": "center"}},
     "y": {"field": "v", "type": "quantitative", "scale": {"domain": [0, 1.2], "nice": false, "zero": false},
       "axis": {"orient": "left", "values": [0,0.1,0.2,0.3,0.4,0.5,0.6,0.7,0.8,0.9,1,1.1,1.2], "tickSize": {"condition": {"test": "round(datum.value*10) % 2 === 0", "value": 10}, "value": 6}, "labelExpr": "round(datum.value*10) % 2 === 0 ? format(datum.value, '.1f') : ''", "labelPadding": 8, "title": "Relative intensity", "titleFontSize": 35, "titleX": -68, "titleY": 330, "titleBaseline": "alphabetic", "titleAlign": "center", "titleAngle": -90}},
     "color": {"field": "F", "type": "nominal",
       "scale": {"domain": ["0.28","0.57","0.77","0.99","1.19","1.42","1.62","1.85"], "range": ["#f01010","#e8781e","#35c814","#3cb8b8","#3c9ce8","#1e1ef0","#8a0ccc","#000000"]},
       "legend": {"orient": "none", "legendX": 45, "legendY": 24, "direction": "horizontal", "columns": 4, "title": "Fluence \ud835\ude0d (mJ/cm\u00b2)", "titleOrient": "left", "titleLimit": 400, "titleFontSize": 25, "titleFontWeight": "normal", "titleColor": "black", "titlePadding": 22, "labelFontSize": 22, "labelColor": "black", "labelOffset": 24, "columnPadding": 18, "rowPadding": 4, "symbolType": "circle", "symbolSize": 100, "symbolStrokeWidth": 2, "padding": 0}}
   }},
  {"data": {"name": "fitL"},
   "mark": {"type": "line", "strokeWidth": 5.5, "interpolate": "monotone"},
   "encoding": {"x": {"field": "t", "type": "quantitative"}, "y": {"field": "v", "type": "quantitative"}, "color": {"field": "F", "type": "nominal"}}},
  {"data": {"values": [
     {"t1": 11.84, "t2": 12.32, "v1": -0.0205, "v2": 0.0205},
     {"t1": 12.22, "t2": 12.67, "v1": -0.0205, "v2": 0.0205},
     {"t1": 11.78, "t2": 12.22, "v1": 1.1774, "v2": 1.2205},
     {"t1": 12.25, "t2": 12.67, "v1": 1.1774, "v2": 1.2205}]},
   "mark": {"type": "rule", "strokeWidth": 1.8, "color": "black"},
   "encoding": {"x": {"field": "t1", "type": "quantitative"}, "x2": {"field": "t2"}, "y": {"field": "v1", "type": "quantitative"}, "y2": {"field": "v2"}}}
 ]
},
{
 "data": {"values": [{"t": 0, "v": 0.5}]},
 "mark": {"type": "point", "opacity": 0},
 "encoding": {
   "x": {"field": "t", "type": "quantitative", "scale": {"domain": [-2, 12], "range": [0, 441], "nice": false, "zero": false},
     "axis": {"orient": "top", "values": [-2,-1,0,1,2,3,4,5,6,7,8,9,10,11], "tickSize": {"condition": {"test": "datum.value % 2 === 0", "value": -10}, "value": -6}, "labels": false, "title": null}},
   "y": {"field": "v", "type": "quantitative", "scale": {"domain": [0, 1.2], "nice": false, "zero": false},
     "axis": {"orient": "right", "values": [0.2,0.4,0.6,0.8,1.0], "tickSize": -8, "labels": false, "title": null}}
 }
},
{
 "layer": [
  {"data": {"name": "ptsR"},
   "mark": {"type": "point", "filled": false, "size": 110, "strokeWidth": 2, "opacity": 1},
   "encoding": {
     "x": {"field": "t", "type": "quantitative", "scale": {"type": "log", "domain": [12.2, 1675], "range": [455.3, 808], "nice": false, "zero": false},
       "axis": {"orient": "bottom", "values": [20,30,40,50,60,70,80,90,100,200,300,400,500,600,700,800,900,1000], "tickSize": {"condition": {"test": "datum.value === 100 || datum.value === 1000", "value": 10}, "value": 6}, "labelExpr": "(datum.value === 100 || datum.value === 1000) ? format(datum.value, 'd') : ''", "labelPadding": 8, "title": null}},
     "y": {"field": "v", "type": "quantitative", "scale": {"domain": [0, 1.2], "nice": false, "zero": false}, "axis": null},
     "color": {"field": "F", "type": "nominal"}
   }},
  {"data": {"name": "fitR"},
   "mark": {"type": "line", "strokeWidth": 5.5, "interpolate": "monotone"},
   "encoding": {"x": {"field": "t", "type": "quantitative"}, "y": {"field": "v", "type": "quantitative"}, "color": {"field": "F", "type": "nominal"}}}
 ]
},
{
 "data": {"values": [{"t": 100, "v": 0.5}]},
 "mark": {"type": "point", "opacity": 0},
 "encoding": {
   "x": {"field": "t", "type": "quantitative", "scale": {"type": "log", "domain": [12.2, 1675], "range": [455.3, 808], "nice": false, "zero": false},
     "axis": {"orient": "top", "values": [20,30,40,50,60,70,80,90,100,200,300,400,500,600,700,800,900,1000], "tickSize": {"condition": {"test": "datum.value === 100 || datum.value === 1000", "value": -10}, "value": -6}, "labels": false, "title": null}}
 }
},
{
 "layer": [
  {"data": {"values": [{"t1": -7.4, "t2": 150, "v": 0.957}]},
   "mark": {"type": "rule", "strokeWidth": 2, "strokeDash": [2, 3], "color": "black"},
   "encoding": {
     "x": {"field": "t1", "type": "quantitative", "scale": {"domain": [-7.4, 150], "range": [448, 781], "nice": false, "zero": false},
       "axis": {"orient": "bottom", "offset": -48, "values": [0,20,40,60,80,100,120,140], "tickSize": -5, "tickWidth": 1.5, "labelExpr": "datum.value % 40 === 0 ? '' + datum.value : ''", "labelPadding": 15, "title": null}},
     "x2": {"field": "t2"},
     "y": {"field": "v", "type": "quantitative", "scale": {"domain": [0, 1.11], "range": [537, 306], "nice": false, "zero": false},
       "axis": {"orient": "left", "offset": -448, "values": [0.1,0.2,0.3,0.4,0.5,0.6,0.7,0.8,0.9,1.0], "tickSize": -5, "tickWidth": 1.5, "labels": false, "title": null}}
   }},
  {"data": {"name": "inset"},
   "mark": {"type": "rule", "strokeWidth": 1.5, "color": "#ff1a1a"},
   "encoding": {"x": {"field": "t", "type": "quantitative"}, "y": {"field": "lo", "type": "quantitative"}, "y2": {"field": "hi"}}},
  {"data": {"name": "inset"},
   "mark": {"type": "point", "filled": true, "size": 55, "color": "#ff1a1a", "opacity": 1},
   "encoding": {"x": {"field": "t", "type": "quantitative"}, "y": {"field": "v", "type": "quantitative"}}},
  {"data": {"name": "insetRedFit"},
   "mark": {"type": "line", "strokeWidth": 2.5, "color": "#ff1a1a", "interpolate": "monotone"},
   "encoding": {"x": {"field": "t", "type": "quantitative"}, "y": {"field": "v", "type": "quantitative"}}},
  {"data": {"name": "insetBlue"},
   "mark": {"type": "line", "strokeWidth": 4.5, "color": "#1414dc", "interpolate": "monotone"},
   "encoding": {"x": {"field": "t", "type": "quantitative"}, "y": {"field": "v", "type": "quantitative"}}},
  {"data": {"values": [{"t1": 114, "t2": 130, "v": 0.957}, {"t1": 114, "t2": 127, "v": 0.62}]},
   "mark": {"type": "rule", "strokeWidth": 2, "color": "black"},
   "encoding": {"x": {"field": "t1", "type": "quantitative"}, "x2": {"field": "t2"}, "y": {"field": "v", "type": "quantitative"}}},
  {"data": {"values": [{"t": 119.3, "v1": 0.62, "v2": 0.957}]},
   "mark": {"type": "rule", "strokeWidth": 2, "color": "black"},
   "encoding": {"x": {"field": "t", "type": "quantitative"}, "y": {"field": "v1", "type": "quantitative"}, "y2": {"field": "v2"}}},
  {"data": {"values": [{"t": 119.3, "v": 0.93, "d": "up"}, {"t": 119.3, "v": 0.647, "d": "down"}]},
   "mark": {"type": "point", "filled": true, "size": 70, "color": "black", "opacity": 1},
   "encoding": {"x": {"field": "t", "type": "quantitative"}, "y": {"field": "v", "type": "quantitative"},
     "shape": {"field": "d", "type": "nominal", "scale": {"domain": ["up", "down"], "range": ["triangle-up", "triangle-down"]}, "legend": null}}},
  {"data": {"values": [{"t": 10.5, "v1": 0.075, "v2": 0.558}]},
   "mark": {"type": "rule", "strokeWidth": 2, "color": "#5e2a84"},
   "encoding": {"x": {"field": "t", "type": "quantitative"}, "y": {"field": "v1", "type": "quantitative"}, "y2": {"field": "v2"}}},
  {"data": {"values": [{"t1": 4.4, "t2": 16.2, "v": 0.053}]},
   "mark": {"type": "rule", "strokeWidth": 2, "color": "#5e2a84"},
   "encoding": {"x": {"field": "t1", "type": "quantitative"}, "x2": {"field": "t2"}, "y": {"field": "v", "type": "quantitative"}}},
  {"data": {"values": [{"t": 10.5, "v": 0.08}]},
   "mark": {"type": "point", "filled": true, "size": 70, "shape": "triangle-down", "color": "#5e2a84", "opacity": 1},
   "encoding": {"x": {"field": "t", "type": "quantitative"}, "y": {"field": "v", "type": "quantitative"}}},
  {"data": {"values": [{"t": 100.2, "v": 0.74, "txt": "I"}]},
   "mark": {"type": "text", "fontSize": 46, "fontStyle": "italic", "align": "center", "baseline": "alphabetic", "color": "black"},
   "encoding": {"x": {"field": "t", "type": "quantitative"}, "y": {"field": "v", "type": "quantitative"}, "text": {"field": "txt"}}},
  {"data": {"values": [{"t": 108.5, "v": 0.685, "txt": "\u221e"}]},
   "mark": {"type": "text", "fontSize": 26, "align": "center", "baseline": "alphabetic", "color": "black"},
   "encoding": {"x": {"field": "t", "type": "quantitative"}, "y": {"field": "v", "type": "quantitative"}, "text": {"field": "txt"}}},
  {"data": {"values": [{"t": 116.7, "v": 0.332, "txt": "Long time"}]},
   "mark": {"type": "text", "fontSize": 23, "align": "center", "baseline": "alphabetic", "color": "black"},
   "encoding": {"x": {"field": "t", "type": "quantitative"}, "y": {"field": "v", "type": "quantitative"}, "text": {"field": "txt"}}},
  {"data": {"values": [{"t": 24.7, "v": 0.245, "txt": "\u0394I"}]},
   "mark": {"type": "text", "fontSize": 36, "fontStyle": "italic", "align": "center", "baseline": "alphabetic", "color": "#5e2a84"},
   "encoding": {"x": {"field": "t", "type": "quantitative"}, "y": {"field": "v", "type": "quantitative"}, "text": {"field": "txt"}}}
 ]
},
{
 "data": {"values": [{"t": 50, "v": 0.5}]},
 "mark": {"type": "point", "opacity": 0},
 "encoding": {
   "x": {"field": "t", "type": "quantitative", "scale": {"domain": [-7.4, 150], "range": [448, 781], "nice": false, "zero": false},
     "axis": {"orient": "top", "offset": -306, "values": [0,20,40,60,80,100,120,140], "tickSize": -5, "tickWidth": 1.5, "labels": false, "title": null}},
   "y": {"field": "v", "type": "quantitative", "scale": {"domain": [0, 1.11], "range": [537, 306], "nice": false, "zero": false},
     "axis": {"orient": "right", "offset": -27, "values": [0.1,0.2,0.3,0.4,0.5,0.6,0.7,0.8,0.9,1.0], "tickSize": -5, "tickWidth": 1.5, "labels": false, "title": null}}
 }
}
],
"resolve": {"scale": {"x": "independent", "y": "independent"}}
}
